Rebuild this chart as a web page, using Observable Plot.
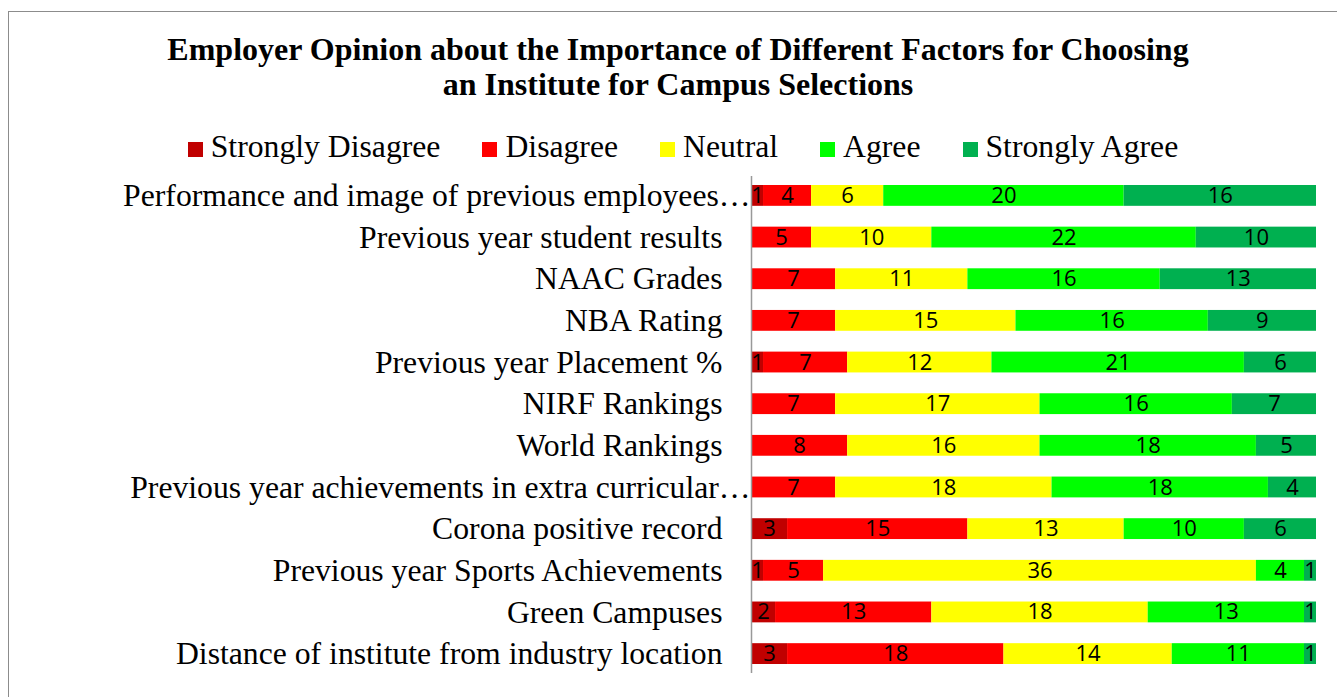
<!DOCTYPE html>
<html>
<head>
<meta charset="utf-8">
<script src="https://cdn.jsdelivr.net/npm/d3@7"></script>
<script src="https://cdn.jsdelivr.net/npm/@observablehq/plot@0.6"></script>
<style>
  html, body { margin: 0; padding: 0; background: #fff; }
  body { width: 1337px; height: 697px; position: relative; overflow: hidden; }
  #frame { position: absolute; left: 8px; top: 11px; width: 1400px; height: 800px;
           border-top: 1.5px solid #8c8c8c; border-left: 1.5px solid #8c8c8c; box-sizing: border-box; }
  #title { position: absolute; left: 0; top: 32.2px; width: 1356px; text-align: center;
           font-family: "Liberation Serif", "Times New Roman", serif; font-weight: bold;
           font-size: 32px; line-height: 35px; color: #000; }
  #legend { position: absolute; left: 0; top: 128.7px; width: 1366px; display: flex;
            justify-content: center; align-items: baseline;
            font-family: "Liberation Serif", "Times New Roman", serif; font-size: 31.7px;
            line-height: 36px; color: #000; white-space: nowrap; }
  #legend .item { display: inline-flex; align-items: baseline; margin: 0 21px; }
  #legend .sw { display: inline-block; width: 15px; height: 15px; margin-right: 8px; }
  #chart { position: absolute; left: 0; top: 160px; }
</style>
</head>
<body>
<div id="frame"></div>
<div id="title">Employer Opinion about the Importance of Different Factors for Choosing<br>an Institute for Campus Selections</div>
<div id="legend"></div>
<div id="chart"></div>
<script>
const factors = [
  "Performance and image of previous employees…",
  "Previous year student results",
  "NAAC Grades",
  "NBA Rating",
  "Previous year Placement %",
  "NIRF Rankings",
  "World Rankings",
  "Previous year achievements in extra curricular…",
  "Corona positive record",
  "Previous year Sports Achievements",
  "Green Campuses",
  "Distance of institute from industry location"
];
const truncatedFactors = [
  "Performance and image of previous employees…",
  "Previous year achievements in extra curricular…"
];
const levels = ["Strongly Disagree", "Disagree", "Neutral", "Agree", "Strongly Agree"];
const levelColors = ["#C00000", "#FF0000", "#FFFF00", "#00FF00", "#00B050"];

const stronglyDisagree = [1, 0, 0, 0, 1, 0, 0, 0, 3, 1, 2, 3];
const disagree         = [4, 5, 7, 7, 7, 7, 8, 7, 15, 5, 13, 18];
const neutral          = [6, 10, 11, 15, 12, 17, 16, 18, 13, 36, 18, 14];
const agree            = [20, 22, 16, 16, 21, 16, 18, 18, 10, 4, 13, 11];
const stronglyAgree    = [16, 10, 13, 9, 6, 7, 5, 4, 6, 1, 1, 1];

const series = [stronglyDisagree, disagree, neutral, agree, stronglyAgree];
const rows = [];
factors.forEach((f, i) => {
  levels.forEach((l, j) => {
    const v = series[j][i];
    if (v > 0) rows.push({factor: f, level: l, value: v});
  });
});
const total = d3.max(factors, (f, i) => d3.sum(series, s => s[i]));
const normalFactors = factors.filter(f => !truncatedFactors.includes(f));

// Legend
const legend = document.getElementById("legend");
levels.forEach((l, j) => {
  const item = document.createElement("span");
  item.className = "item";
  const sw = document.createElement("span");
  sw.className = "sw";
  sw.style.background = levelColors[j];
  const tx = document.createElement("span");
  tx.textContent = l;
  item.appendChild(sw);
  item.appendChild(tx);
  legend.appendChild(item);
});

const serif = "Liberation Serif, Times New Roman, serif";
const chart = Plot.plot({
  width: 1337,
  height: 537,
  marginTop: 16,
  marginBottom: 24,
  marginLeft: 751,
  marginRight: 21,
  style: {background: "transparent", overflow: "visible"},
  x: {domain: [0, total], axis: null},
  y: {domain: factors, paddingInner: 0.5, paddingOuter: 0.216, round: false, axis: null, label: null},
  color: {domain: levels, range: levelColors},
  marks: [
    Plot.barX(rows, Plot.stackX({x: "value", y: "factor", fill: "level", order: levels})),
    Plot.text(rows, Plot.stackX({
      x: "value", y: "factor", z: "level", order: levels,
      text: d => String(d.value), fill: "black",
      fontSize: 22, fontFamily: "Open Sans, Noto Sans, sans-serif"
    })),
    Plot.ruleX([0], {stroke: "#999", strokeWidth: 1.5}),
    Plot.axisY(normalFactors, {tickSize: 0, tickPadding: 29, fontSize: 31.7, fontFamily: serif, fill: "black", label: null}),
    Plot.axisY(truncatedFactors, {tickSize: 0, tickPadding: 1, fontSize: 31.7, fontFamily: serif, fill: "black", label: null})
  ]
});
document.getElementById("chart").appendChild(chart);
</script>
</body>
</html>
